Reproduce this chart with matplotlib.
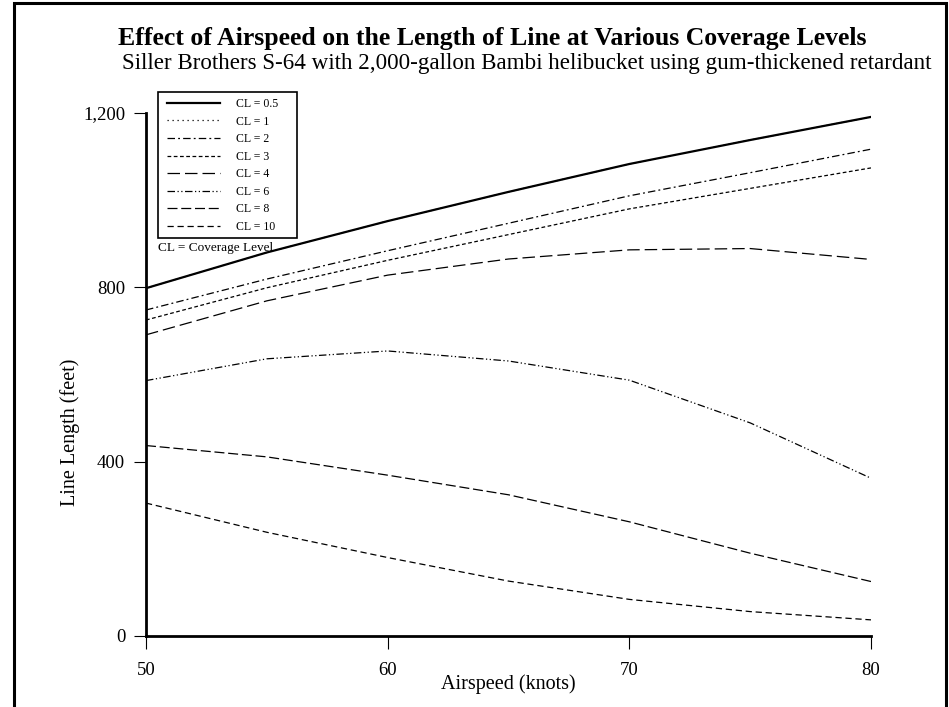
import matplotlib
matplotlib.use("Agg")
import matplotlib.pyplot as plt
from matplotlib.patches import Rectangle
from matplotlib.ticker import FuncFormatter

plt.rcParams['font.family'] = ['Liberation Serif', 'DejaVu Serif']

# airspeed (knots)
airspeed = [50, 55, 60, 65, 70, 75, 80]

# line length (feet) per coverage level
cl_05 = [798, 880, 952, 1019, 1083, 1138, 1191]
cl_1 = [798, 880, 952, 1019, 1083, 1138, 1191]
cl_2 = [748, 819, 884, 947, 1010, 1063, 1117]
cl_3 = [725, 799, 862, 921, 980, 1027, 1074]
cl_4 = [691, 769, 828, 865, 886, 889, 864]
cl_6 = [586, 636, 654, 631, 587, 489, 362]
cl_8 = [437, 411, 369, 324, 262, 190, 125]
cl_10 = [305, 238, 180, 126, 84, 56, 37]

labels = ['CL = 0.5', 'CL = 1', 'CL = 2', 'CL = 3', 'CL = 4', 'CL = 6', 'CL = 8', 'CL = 10']
series = [cl_05, cl_1, cl_2, cl_3, cl_4, cl_6, cl_8, cl_10]
styles = ['-', (0, (1, 3)), (0, (6, 2.5, 1.5, 2.5)), (0, (3, 2)), (0, (10, 4)),
          (0, (6, 2, 1, 2, 1, 2)), (0, (8, 3)), (0, (5, 3))]
widths = [1.6, 0.9, 0.9, 0.9, 0.9, 0.9, 0.9, 0.9]

W, H = 949, 707
fig = plt.figure(figsize=(9.49, 7.07), dpi=100)

# outer frame
fig.patches.append(Rectangle((14 / W, -0.02), 932 / W, 1.02 - 3 / H,
                             transform=fig.transFigure, fill=False,
                             edgecolor='black', linewidth=2.2))

ax = fig.add_axes([146 / W, 1 - 636 / H, 725 / W, 523 / H])

# draw in reverse so the solid line sits on top
handles = [None] * len(series)
for i in reversed(range(len(series))):
    h, = ax.plot(airspeed, series[i], color='black', linestyle=styles[i],
                 linewidth=widths[i], label=labels[i])
    handles[i] = h

ax.set_xlim(50, 80)
ax.set_ylim(0, 1200)
ax.set_xticks([50, 60, 70, 80])
ax.set_yticks([0, 400, 800, 1200])
ax.yaxis.set_major_formatter(FuncFormatter(lambda v, p: f'{int(v):,}'))
ax.spines['top'].set_visible(False)
ax.spines['right'].set_visible(False)
ax.spines['left'].set_linewidth(2.0)
ax.spines['bottom'].set_linewidth(2.0)
ax.tick_params(direction='out', length=9, width=0.8, labelsize=13.5, pad=6)
ax.tick_params(axis='x', pad=10)

ax.set_xlabel('Airspeed (knots)', fontsize=14.5, labelpad=-4)
ax.set_ylabel('Line Length (feet)', fontsize=14.5)
ax.yaxis.set_label_coords((80 - 146) / 725, (636 - 432) / 523)

fig.text(492 / W, 1 - 39 / H, 'Effect of Airspeed on the Length of Line at Various Coverage Levels',
         ha='center', va='center', fontsize=18.5, fontweight='bold')
fig.text(527 / W, 1 - 64 / H,
         'Siller Brothers S-64 with 2,000-gallon Bambi helibucket using gum-thickened retardant',
         ha='center', va='center', fontsize=16.6)

# legend box drawn separately so its size matches the original
fig.patches.append(Rectangle((158 / W, 1 - 238 / H), 139 / W, 146 / H,
                             transform=fig.transFigure, facecolor='white',
                             edgecolor='black', linewidth=1.2, zorder=3))
leg = fig.legend(handles=handles, loc='upper left', bbox_to_anchor=(167 / W, 1 - 98 / H),
                 fontsize=8.5, frameon=False, handlelength=4.5, handletextpad=1.35,
                 labelspacing=0.47, borderpad=0, borderaxespad=0)
leg.set_zorder(4)
fig.text(158 / W, 1 - 248 / H, 'CL = Coverage Level', fontsize=9.5, ha='left', va='center')

fig.savefig('out.png', dpi=100)
